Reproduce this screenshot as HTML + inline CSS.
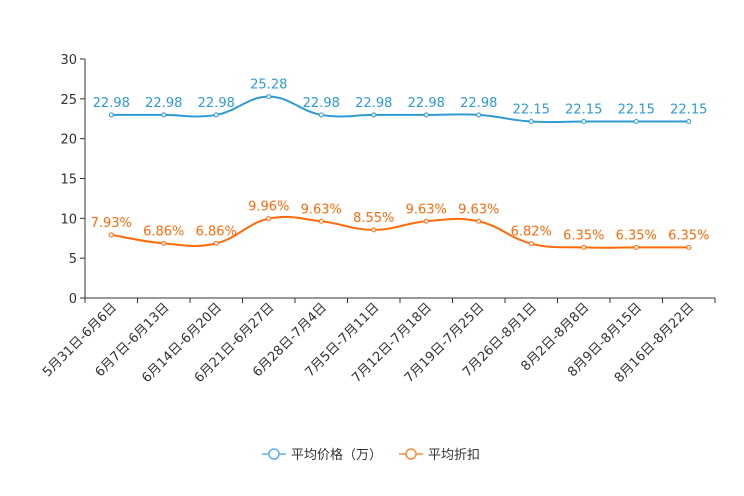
<!DOCTYPE html>
<html><head><meta charset="utf-8"><style>
body{margin:0;background:#fff;}
svg{display:block;font-family:"DejaVu Sans","Noto Sans CJK SC",sans-serif;}
</style></head><body>
<svg id="c" width="744" height="496"></svg>
<script>
const categories=["5月31日-6月6日","6月7日-6月13日","6月14日-6月20日","6月21日-6月27日","6月28日-7月4日","7月5日-7月11日","7月12日-7月18日","7月19日-7月25日","7月26日-8月1日","8月2日-8月8日","8月9日-8月15日","8月16日-8月22日"];
const priceValues=[22.98,22.98,22.98,25.28,22.98,22.98,22.98,22.98,22.15,22.15,22.15,22.15];
const discountValues=[7.93,6.86,6.86,9.96,9.63,8.55,9.63,9.63,6.82,6.35,6.35,6.35];
const yTicks=[0,5,10,15,20,25,30];
const NS="http://www.w3.org/2000/svg";
const svg=document.getElementById('c');
const L=85,R=715,T=59,B=298,yMax=30;
const bw=(R-L)/categories.length;
const xS=i=>L+bw*(i+0.5);
const yS=v=>B-(v/yMax)*(B-T);
function el(t,a,p){const e=document.createElementNS(NS,t);for(const k in a)e.setAttribute(k,a[k]);(p||svg).appendChild(e);return e;}
const ya=el('g',{});


el('line',{x1:L,y1:T,x2:L,y2:B,stroke:'#333','stroke-width':1},ya);
yTicks.forEach(v=>{
  el('line',{x1:L-5,y1:yS(v),x2:L,y2:yS(v),stroke:'#333'},ya);
  const t=el('text',{x:L-8,y:yS(v)+5,'text-anchor':'end','font-size':13,fill:'#333'},ya);
  t.textContent=v;
  
  
});
const xa=el('g',{});


el('line',{x1:L,y1:B,x2:R,y2:B,stroke:'#333','stroke-width':1},xa);
for(let i=0;i<=categories.length;i++)el('line',{x1:L+bw*i,y1:B,x2:L+bw*i,y2:B+5,stroke:'#333'},xa);
categories.forEach((c,i)=>{
  const x=xS(i)+6,y=B+10;
  const t=el('text',{x:x,y:y,'text-anchor':'end','font-size':13,fill:'#333',transform:`rotate(-45 ${x} ${y})`},xa);
  t.textContent=c;
  
  
});
function smooth(pts){
  let d=`M${pts[0][0]},${pts[0][1]}`;
  for(let i=0;i<pts.length-1;i++){
    const p0=pts[i-1]||pts[i],p1=pts[i],p2=pts[i+1],p3=pts[i+2]||p2;
    const k=0.2;
    const c1=[p1[0]+(p2[0]-p0[0])*k,p1[1]+(p2[1]-p0[1])*k];
    const c2=[p2[0]-(p3[0]-p1[0])*k,p2[1]-(p3[1]-p1[1])*k];
    d+=` C${c1[0]},${c1[1]} ${c2[0]},${c2[1]} ${p2[0]},${p2[1]}`;
  }
  return d;
}
function series(vals,color,name,suffix){
  const g=el('g',{});
  
  
  const pts=vals.map((v,i)=>[xS(i),yS(v)]);
  el('path',{d:smooth(pts),fill:'none',stroke:color,'stroke-width':2},g);
  vals.forEach((v,i)=>{
    const c=el('circle',{cx:pts[i][0],cy:pts[i][1],r:2,fill:'#fff',stroke:color,'stroke-width':1},g);
    
    
    const t=el('text',{x:pts[i][0],y:pts[i][1]-8,'text-anchor':'middle','font-size':13,fill:color},g);
    t.textContent=v.toFixed(2)+suffix;
    
    
  });
}
series(priceValues,'#2f9ad4','price-series','');
series(discountValues,'#ff6a0a','discount-series','%');
function legend(x,color,label){
  const g=el('g',{});
  
  
  el('line',{x1:x,y1:454,x2:x+24,y2:454,stroke:color,'stroke-width':1.5},g);
  el('circle',{cx:x+12,cy:454,r:5,fill:'#fff',stroke:color,'stroke-width':1.5},g);
  const t=el('text',{x:x+29,y:459,'font-size':13,fill:'#333'},g);
  t.textContent=label;
}
legend(262,'#5ab1ef','平均价格（万）');
legend(399,'#ff8a3d','平均折扣');
</script>
</body></html>
